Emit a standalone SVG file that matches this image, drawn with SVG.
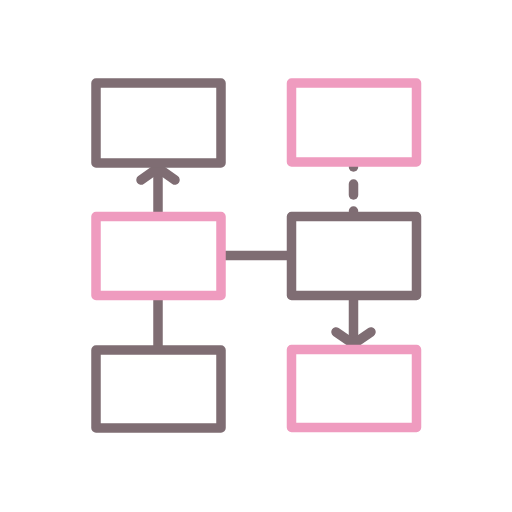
<svg xmlns="http://www.w3.org/2000/svg" width="512" height="512" viewBox="0 0 512 512">
<style>
.b{fill:none;stroke:#7f6d73;stroke-width:9.5;stroke-linejoin:round;stroke-linecap:round}
.p{fill:none;stroke:#ef9bbf;stroke-width:9.5;stroke-linejoin:round;stroke-linecap:round}
.c{fill:none;stroke:#7f6d73;stroke-width:9.5;stroke-linecap:butt}
.h{fill:none;stroke:#7f6d73;stroke-width:9.5;stroke-linecap:round;stroke-linejoin:round}
</style>
<rect width="512" height="512" fill="#fff"/>
<g id="connectors">
<line class="c" x1="158" y1="168" x2="158" y2="212"/>
<polyline class="h" points="141,180 158,168 175,180"/>
<line class="c" x1="158" y1="300" x2="158" y2="346"/>
<line class="c" x1="225" y1="255.5" x2="287" y2="255.5"/>
<circle cx="353.5" cy="167" r="4.75" fill="#7f6d73"/>
<line class="h" x1="353.5" y1="184" x2="353.5" y2="195"/>
<circle cx="353.5" cy="211" r="4.75" fill="#7f6d73"/>
<line class="c" x1="353.5" y1="300" x2="353.5" y2="343"/>
<polyline class="h" points="336,332 353.5,344 371,332"/>
</g>
<g id="node-tl"><rect class="b" x="96" y="83" width="125" height="80"/></g>
<g id="node-ml"><rect class="p" x="96" y="216.5" width="125" height="79"/></g>
<g id="node-bl"><rect class="b" x="96" y="350" width="125" height="78"/></g>
<g id="node-tr"><rect class="p" x="291.5" y="83" width="125" height="79"/></g>
<g id="node-mr"><rect class="b" x="291.5" y="216.5" width="125" height="79"/></g>
<g id="node-br"><rect class="p" x="291.5" y="349.5" width="125" height="78"/></g>
</svg>
